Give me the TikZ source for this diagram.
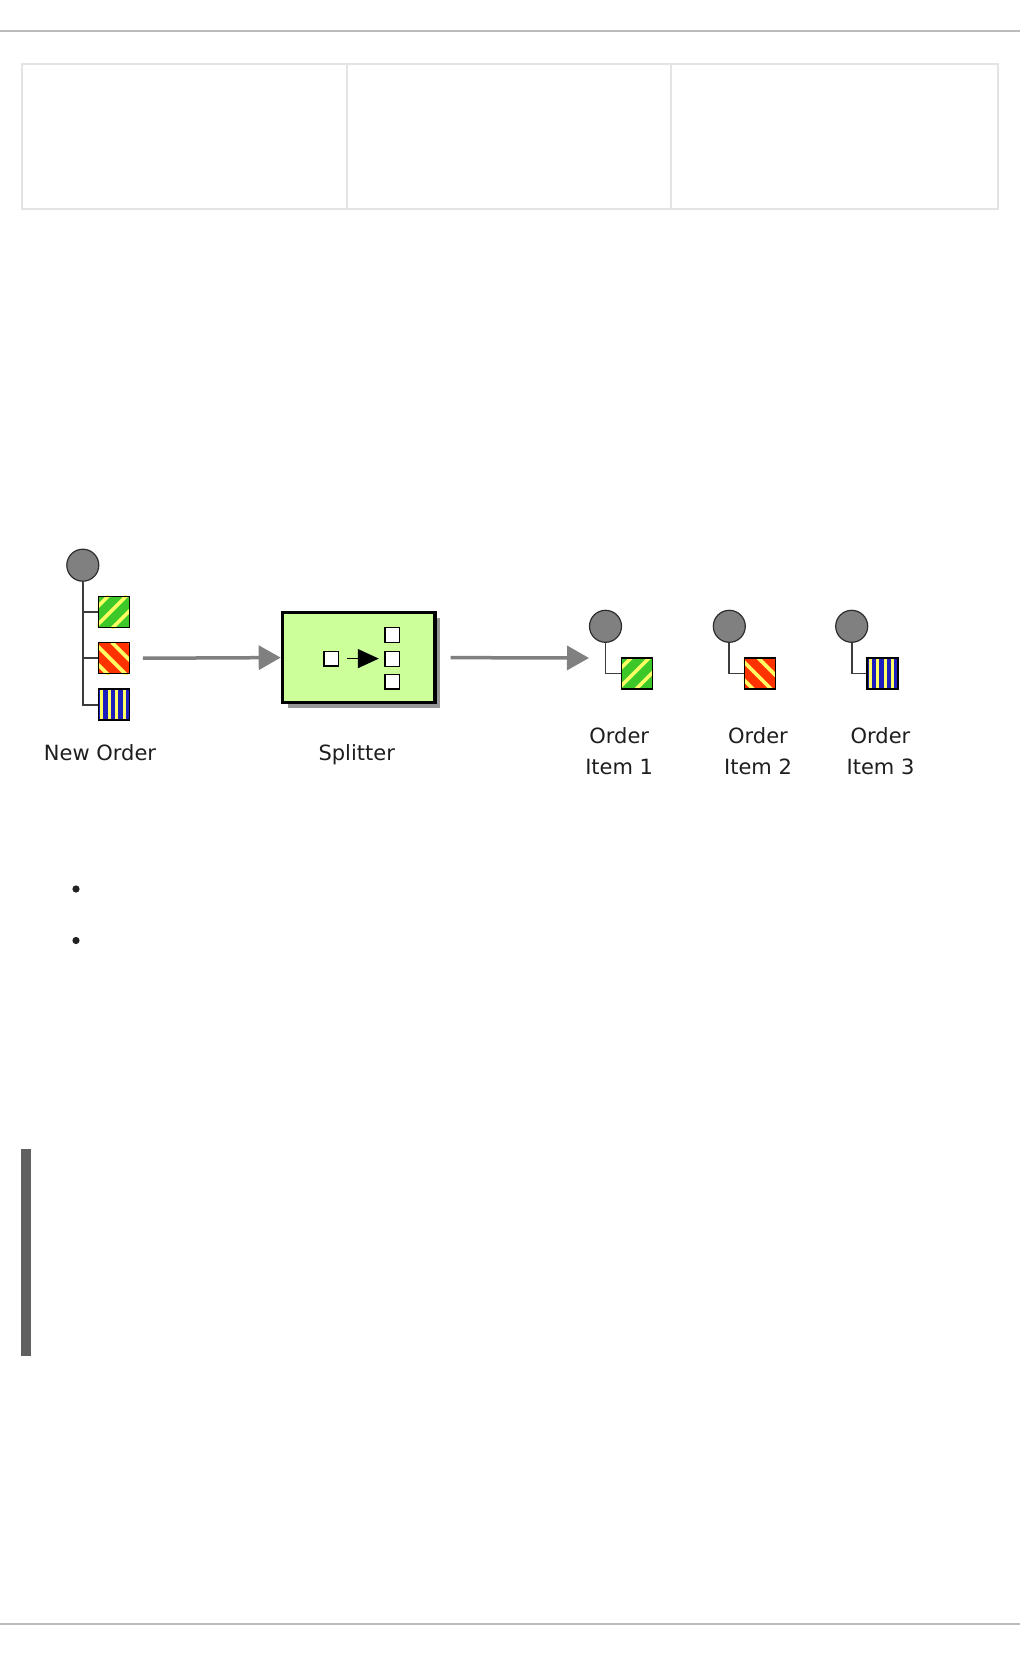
\documentclass[tikz,border=0pt]{standalone}
\usepackage{fontspec}
\setmainfont{DejaVu Sans}
\usetikzlibrary{arrows.meta,shadows}
\definecolor{rulegray}{RGB}{187,187,187}
\definecolor{tablegray}{RGB}{228,228,228}
\definecolor{bargray}{RGB}{96,96,96}
\definecolor{bulletcol}{RGB}{34,34,34}
\definecolor{textcol}{RGB}{30,30,30}
\definecolor{flowgray}{RGB}{128,128,128}
\definecolor{wiregray}{RGB}{60,60,60}
\definecolor{chgray}{RGB}{128,128,128}
\definecolor{chedge}{RGB}{45,45,45}
\definecolor{splitgreen}{RGB}{204,255,153}
\definecolor{shadowgray}{RGB}{150,150,150}
\definecolor{msggreen}{RGB}{60,200,40}
\definecolor{msgred}{RGB}{255,50,0}
\definecolor{msgblue}{RGB}{30,30,190}
\definecolor{stripey}{RGB}{255,255,100}
\begin{document}
\begin{tikzpicture}[x=1pt,y=-1pt,
  lbl/.style={font=\fontsize{21}{31}\selectfont, text=textcol, inner sep=0pt, align=center},
  channel/.style={circle, fill=chgray, draw=chedge, line width=1.2pt, minimum size=32pt, inner sep=0pt},
  wire/.style={draw=wiregray, line width=1.8pt},
  flow/.style={draw=flowgray, line width=3.5pt, -{Triangle[length=22pt,width=24pt]}},
  msgsq/.style={rectangle, draw=black, line width=1.3pt, minimum size=31pt, inner sep=0pt},
  stripe/.style={stripey, line width=3.6pt},
  sqborder/.style={draw=black, line width=1.3pt},
  splitbox/.style={rectangle, draw=black, line width=3.5pt, fill=splitgreen,
     minimum width=152.5pt, minimum height=90pt, inner sep=0pt,
     drop shadow={shadow xshift=5.5pt, shadow yshift=-5.5pt, fill=shadowgray, opacity=1}},
  smallsq/.style={rectangle, draw=black, fill=white, line width=1.4pt, inner sep=0pt, minimum size=14.6pt}
]
\useasboundingbox (0,0) rectangle (1020,1656);
\fill[white] (0,0) rectangle (1020,1656);

% page rules
\draw[rulegray, line width=2pt] (0,30.6) -- (1020,30.6);
\draw[rulegray, line width=2pt] (0,1624) -- (1020,1624);

% empty table
\draw[tablegray, line width=2pt] (21.5,64.5) rectangle (997.5,208.5);
\draw[tablegray, line width=1.5pt] (347,65) -- (347,208);
\draw[tablegray, line width=1.5pt] (671,65) -- (671,208);

% bullets
\fill[bulletcol] (76,889) circle (3.6pt);
\fill[bulletcol] (76,940.5) circle (3.6pt);

% side bar
\fill[bargray] (21,1149) rectangle (31,1355.5);

% New Order
\node[channel] (neworder) at (82.8,565.2) {};
\node[msgsq, fill=msggreen] (nog) at (113.8,611.9) {};
\node[msgsq, fill=msgred] (nor) at (113.8,658.3) {};
\node[msgsq, fill=msgblue] (nob) at (113.8,704.6) {};
\draw[wire] (neworder.south) |- (nob.west);
\draw[wire] (neworder.south |- nog.west) -- (nog.west);
\draw[wire] (neworder.south |- nor.west) -- (nor.west);
\node[lbl, anchor=base] (lblno) at (100,760) {New Order};

% Splitter
\node[splitbox] (splitter) at (358.7,657.6) {};
\node[smallsq] (sin) at (331.3,658.6) {};
\node[smallsq] (sout1) at (392.3,635) {};
\node[smallsq] (sout2) at (392.3,659) {};
\node[smallsq] (sout3) at (392.3,681.7) {};
\draw[black, line width=1.5pt, -{Triangle[length=21pt,width=19pt]}, shorten <=8pt, shorten >=5.5pt] (sin.east) -- (sin.east -| sout2.west);
\node[lbl, anchor=base] (lblsp) at (356.7,760) {Splitter};

\draw[flow, shorten <=13pt] (nor.east) -- (splitter.west);

% Order items
\node[channel] (oi1) at (605.5,626.3) {};
\node[msgsq, fill=msggreen] (sq1) at (636.9,673.5) {};
\draw[wire] (oi1.south) |- (sq1.west);
\node[channel] (oi2) at (729.3,626.3) {};
\node[msgsq, fill=msgred] (sq2) at (759.7,673.5) {};
\draw[wire] (oi2.south) |- (sq2.west);
\node[channel] (oi3) at (851.7,626.3) {};
\node[msgsq, fill=msgblue] (sq3) at (882.5,673.5) {};
\draw[wire] (oi3.south) |- (sq3.west);

% stripes of the message squares
\foreach \n in {nog,sq1} {
  \begin{scope}
    \clip (\n.north west) rectangle (\n.south east);
    \foreach \s in {-40,-22,-4,14,32}
      \draw[stripe] ([shift={(\s,33)}]\n.north west) -- ([shift={(\s+33,0)}]\n.north west);
  \end{scope}
  \draw[sqborder] ([shift={(0.65,0.65)}]\n.north west) rectangle ([shift={(-0.65,-0.65)}]\n.south east);
}
\foreach \n in {nor,sq2} {
  \begin{scope}
    \clip (\n.north west) rectangle (\n.south east);
    \foreach \s in {-40,-22,-4,14,32}
      \draw[stripe] ([shift={(\s,0)}]\n.north west) -- ([shift={(\s+33,33)}]\n.north west);
  \end{scope}
  \draw[sqborder] ([shift={(0.65,0.65)}]\n.north west) rectangle ([shift={(-0.65,-0.65)}]\n.south east);
}
\foreach \n in {nob,sq3} {
  \begin{scope}
    \clip (\n.north west) rectangle (\n.south east);
    \foreach \s in {4,11.5,19,26.5}
      \draw[stripe, line width=3pt] ([shift={(\s,-1)}]\n.north west) -- ([shift={(\s,34)}]\n.north west);
  \end{scope}
  \draw[sqborder] ([shift={(0.65,0.65)}]\n.north west) rectangle ([shift={(-0.65,-0.65)}]\n.south east);
}

\coordinate (oi1in) at (589,658);
\draw[flow, shorten <=14pt] (splitter.east) -- (oi1in);

\node[lbl, anchor=base] (lbl1) at (619.2,774.7) {Order\\Item 1};
\node[lbl, anchor=base] (lbl2) at (758,774.7) {Order\\Item 2};
\node[lbl, anchor=base] (lbl3) at (880.5,774.7) {Order\\Item 3};
\end{tikzpicture}
\end{document}
